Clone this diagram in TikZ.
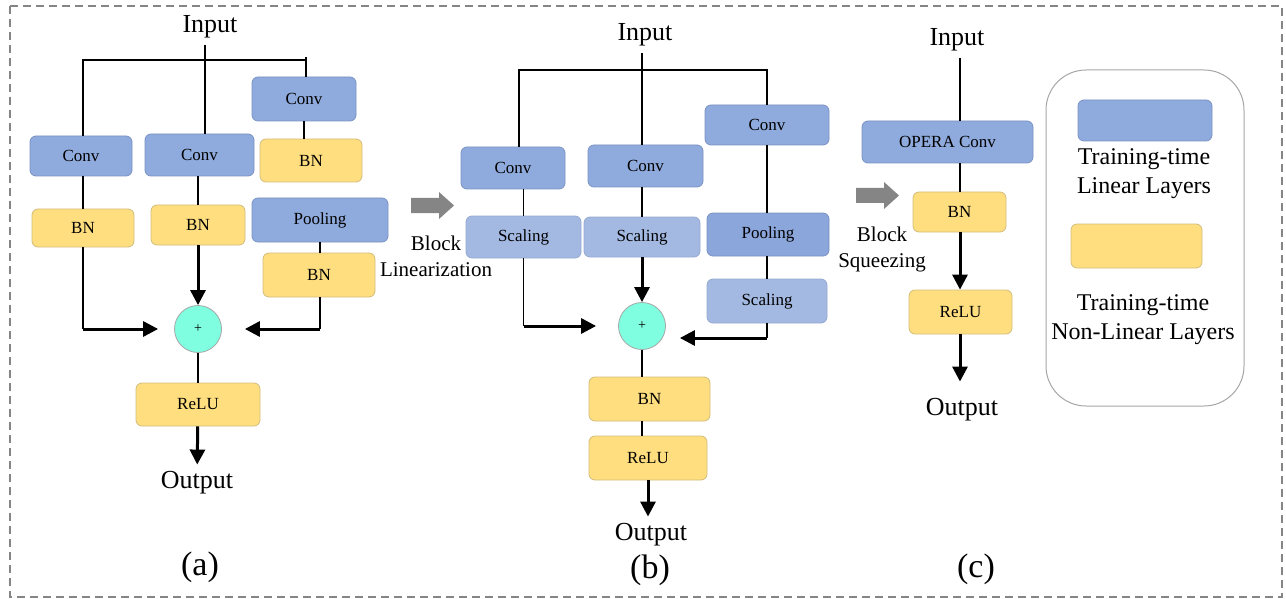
\documentclass[tikz,border=0pt]{standalone}
\usepackage{fontspec}
\setmainfont{Liberation Serif}
\usetikzlibrary{arrows.meta,positioning,calc}
\definecolor{LinBlue}{HTML}{8FAADC}
\definecolor{LinBlueEdge}{HTML}{7A92C4}
\definecolor{ScaleBlue}{HTML}{A3B9E2}
\definecolor{PoolBlue}{HTML}{8BA6DA}
\definecolor{NonLinYellow}{HTML}{FFDE80}
\definecolor{NonLinEdge}{HTML}{D2BC7A}
\definecolor{AddCyan}{HTML}{7FFFE0}
\definecolor{FrameGray}{HTML}{858585}

\begin{document}
\begin{tikzpicture}[x=0.5pt,y=-0.5pt,
  layer/.style={rounded corners=3pt,line width=0.4pt,inner sep=0pt,font=\fontsize{8.5}{10}\selectfont},
  dims/.style 2 args={minimum width=#1*0.5pt,minimum height=#2*0.5pt},
  lin/.style={layer,draw=LinBlueEdge,fill=LinBlue},
  scal/.style={layer,draw=LinBlueEdge!80,fill=ScaleBlue},
  nonlin/.style={layer,draw=NonLinEdge,fill=NonLinYellow},
  addnode/.style={circle,draw=black!35,fill=AddCyan,minimum size=23.5pt,inner sep=0pt,font=\fontsize{7}{8}\selectfont},
  io/.style={font=\fontsize{13}{15}\selectfont},
  phase/.style={font=\fontsize{10.5}{13}\selectfont,align=center},
  legtext/.style={font=\fontsize{12}{14.5}\selectfont,align=center},
  subcap/.style={font=\fontsize{17}{20}\selectfont},
  wire/.style={line width=0.7pt},
  flow/.style={line width=1.5pt,-{Triangle[length=7.5pt,width=7.5pt]}}]
\useasboundingbox (0,0) rectangle (1286,599);
\draw[FrameGray,line width=1.2pt,dash pattern=on 4pt off 2.5pt] (10,6) rectangle (1282,597);

% (a) training-time block
\node[io] (inA) at (210,27) {Input};
\coordinate (barAL) at (83,60);
\coordinate (barAM) at (205,60);
\coordinate (barAR) at (306,60);
\node[lin,dims={102}{40}] (convA1) at (81,156) {Conv};
\node[nonlin,dims={102}{38}] (bnA1) at (83,228) {BN};
\node[lin,dims={109}{42}] (convA2) at (199.5,155) {Conv};
\node[nonlin,dims={94}{40}] (bnA2) at (198,225) {BN};
\node[lin,dims={104}{44}] (convA3) at (304,99) {Conv};
\node[nonlin,dims={102}{43}] (bnA3) at (311,160.5) {BN};
\node[lin,dims={136}{44}] (poolA) at (320,220) {Pooling};
\node[nonlin,dims={112}{44}] (bnA4) at (319,275) {BN};
\node[addnode] (addA) at (198,329) {+};
\node[nonlin,dims={124}{43}] (reluA) at (198,404.5) {ReLU};
\node[io] (outA) at (197,483) {Output};
\node[subcap] (capA) at (200,567) {(a)};
\draw[wire] (barAM |- inA.south) -- (barAM |- convA2.north);
\draw[wire] (barAL |- convA1.north) -- (barAL) -- (barAR);
\draw[wire] ([yshift=1.5pt]barAR) -- (barAR |- convA3.north);
\draw[wire] (convA1.south -| bnA1) -- (bnA1.north);
\draw[wire] (bnA1.south) -- (bnA1.south |- addA);
\draw[flow,shorten >=8pt] (bnA1.south |- addA) -- (addA.west);
\draw[wire] (convA2.south -| bnA2) -- (bnA2.north);
\draw[flow] (bnA2.south) -- (addA.north);
\draw[wire] (convA3.south) -- (convA3.south |- bnA3.north);
\draw[wire] (poolA.south) -- (poolA.south |- bnA4.north);
\draw[wire] (poolA.south |- bnA4.south) -- (poolA.south |- addA);
\draw[flow,shorten >=11.5pt] (poolA.south |- addA) -- (addA.east);
\draw[wire] (addA) -- (reluA);
\draw[flow] (reluA) -- (outA);

% block linearization
\foreach \ax/\ay in {411/192,856/182}
  \fill[FrameGray] (\ax,\ay+6) -- ++(28,0) -- ++(0,-6) -- ++(15,13.5) -- ++(-15,13.5) -- ++(0,-6) -- ++(-28,0) -- cycle;
\node[phase] (linLbl) at (436,256) {Block\\Linearization};

% (b) linearized block
\node[io] (inB) at (645,35) {Input};
\coordinate (barBL) at (519,70);
\coordinate (barBM) at (642,70);
\coordinate (barBR) at (767,70);
\node[lin,dims={104}{42}] (convB1) at (513,168) {Conv};
\node[scal,dims={115}{42}] (scB1) at (523.5,237) {Scaling};
\node[lin,dims={115}{42}] (convB2) at (645.5,166) {Conv};
\node[scal,dims={116}{40}] (scB2) at (642,237) {Scaling};
\node[lin,dims={124}{40}] (convB3) at (767,125) {Conv};
\node[lin,fill=PoolBlue,dims={122}{43}] (poolB) at (768,234.5) {Pooling};
\node[scal,dims={120}{44}] (scB3) at (767,301) {Scaling};
\node[addnode] (addB) at (642,326) {+};
\node[nonlin,dims={121}{44}] (bnB) at (649.5,399) {BN};
\node[nonlin,dims={118}{44}] (reluB) at (648,458) {ReLU};
\node[io] (outB) at (651,535) {Output};
\node[subcap] (capB) at (650,570) {(b)};
\coordinate (cornB) at (767,338);
\draw[wire] (barBM |- inB.south) -- (barBM |- convB2.north);
\draw[wire] (barBL |- convB1.north) -- (barBL) -- (barBR) -- (barBR |- convB3.north);
\draw[wire] (scB1.north |- convB1.south) -- (scB1.north);
\draw[wire] (scB1.south) -- (scB1.south |- addB);
\draw[flow,shorten >=11pt] (scB1.south |- addB) -- (addB.west);
\draw[wire] (scB2.north |- convB2.south) -- (scB2.north);
\draw[flow] (scB2.south) -- (addB.north);
\draw[wire] (convB3.south) -- (convB3.south |- poolB.north);
\draw[wire] (poolB.south -| scB3) -- (scB3.north);
\draw[wire] (scB3.south) -- (cornB);
\draw[flow,shorten >=7pt] (cornB) -- (cornB -| addB.east);
\draw[line width=1pt] (addB.south) -- (addB.south |- bnB.north);
\draw[line width=1pt] (bnB.south -| addB) -- (reluB.north -| addB);
\draw[flow] (reluB.south) -- (reluB.south |- outB.north);

% block squeezing
\node[phase] (sqLbl) at (882,249.5) {Block\\Squeezing};

% (c) squeezed block
\node[io] (inC) at (957,40) {Input};
\coordinate (colC) at (960,0);
\node[lin,dims={171}{42}] (operaC) at (947.5,142) {OPERA Conv};
\node[nonlin,dims={93}{40}] (bnC) at (959.5,212) {BN};
\node[nonlin,dims={103}{44}] (reluC) at (960.5,312) {ReLU};
\node[io] (outC) at (962,410) {Output};
\node[subcap] (capC) at (976,569) {(c)};
\draw[wire] (colC |- inC.south) -- (colC |- operaC.north);
\draw[wire] (colC |- operaC.south) -- (colC |- bnC.north);
\draw[flow] (colC |- bnC.south) -- (colC |- reluC.north);
\draw[flow,shorten >=5pt] (colC |- reluC.south) -- (colC |- outC.north);

% legend
\node[draw=black!35,line width=0.5pt,rounded corners=20pt,dims={198}{336}] (legend) at (1145,238) {};
\node[lin,dims={134}{41}] (keyLin) at (1145,120.5) {};
\node[legtext] (keyLinTxt) at (1144,174) {Training-time\\Linear Layers};
\node[nonlin,dims={131}{44}] (keyNon) at (1136.5,246) {};
\node[legtext] (keyNonTxt) at (1143,320) {Training-time\\Non-Linear Layers};
\end{tikzpicture}
\end{document}
